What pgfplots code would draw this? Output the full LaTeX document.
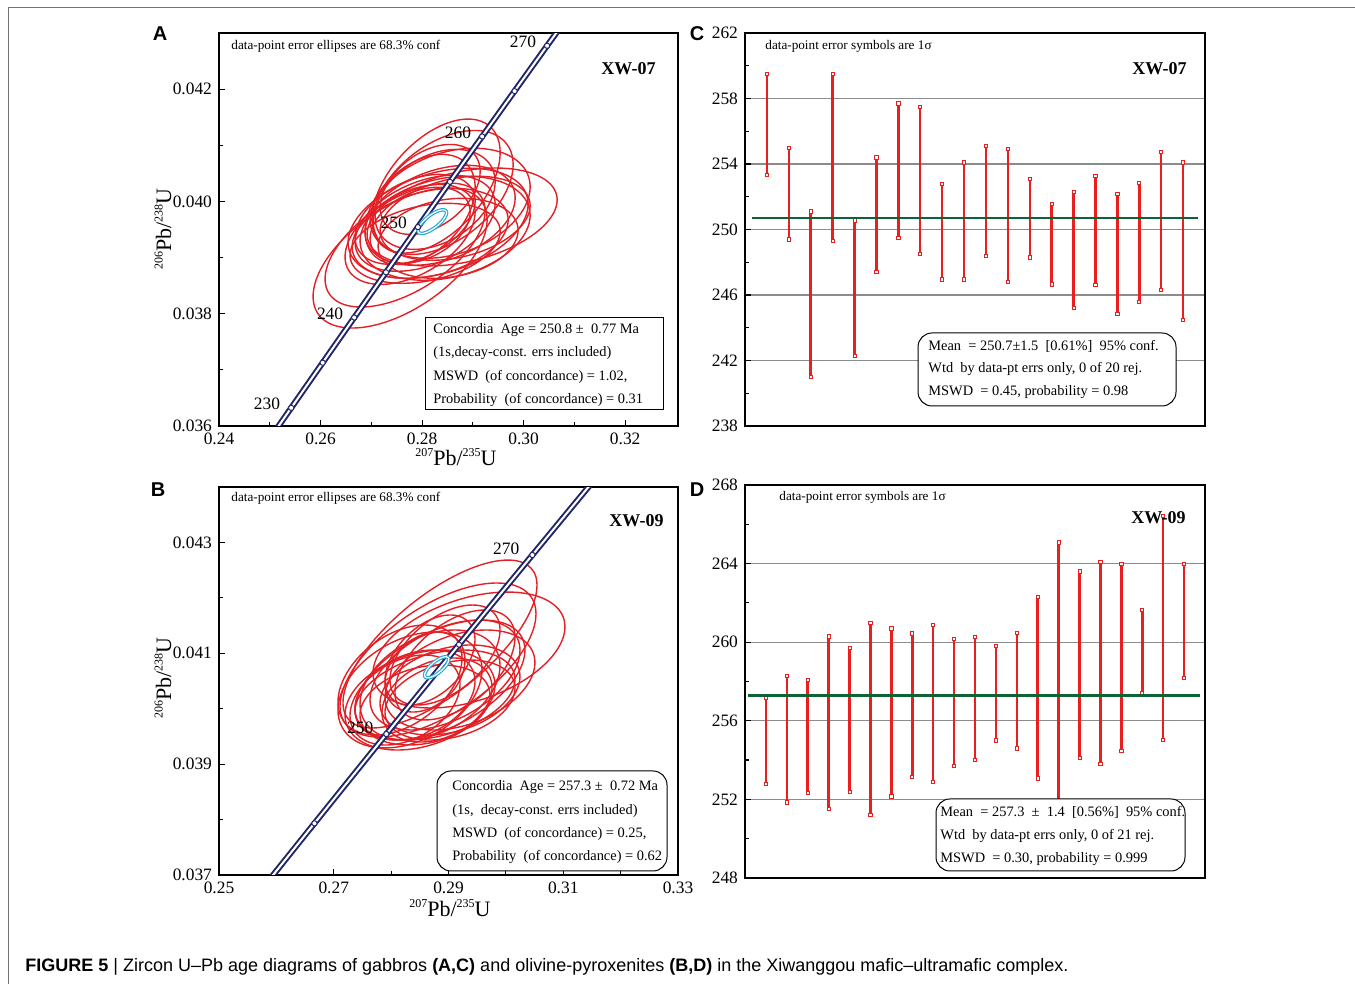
\documentclass[border=0pt]{standalone}
\usepackage{fontspec}
\setmainfont{Liberation Serif}
\newfontfamily\sansf{Liberation Sans}
\usepackage{pgfplots}
\pgfplotsset{compat=1.18}
\usepackage{pgfplotstable}

\definecolor{ellred}{RGB}{226,32,38}
\definecolor{barred}{RGB}{235,30,30}
\definecolor{navy}{RGB}{32,38,104}
\definecolor{cyanell}{RGB}{40,170,215}
\definecolor{greenln}{RGB}{12,100,52}
\definecolor{gridgray}{RGB}{140,140,140}

% concordia curve (age in Ma, 207Pb/235U, 206Pb/238U)
\pgfplotstableread{
t x y
220 0.241929 0.034717
225 0.248062 0.035519
230 0.254222 0.036323
235 0.260414 0.037127
240 0.266636 0.037932
245 0.272889 0.038737
250 0.279171 0.039543
255 0.285485 0.040350
260 0.291832 0.041157
265 0.298209 0.041965
270 0.304618 0.042773
275 0.311058 0.043582
280 0.317530 0.044392
}\conc
\pgfplotstableread{
t x y
230 0.254222 0.036323
240 0.266636 0.037932
250 0.279171 0.039543
260 0.291832 0.041157
270 0.304618 0.042773
}\concten
\pgfplotstableread{
t x y
250 0.279171 0.039543
270 0.304618 0.042773
}\concLabB

% error ellipses XW-07 (centre, 1-sigma half extents, rho)
\pgfplotstableread{
cx cy sx sy r
0.27567 0.038992 0.01714 0.001247 0.55
0.27665 0.039223 0.01576 0.001104 0.55
0.28788 0.039722 0.01872 0.000873 0.35
0.28276 0.040274 0.01261 0.001193 0.50
0.28414 0.040160 0.01379 0.001104 0.45
0.28552 0.039967 0.01576 0.000980 0.30
0.28355 0.039753 0.01478 0.000890 0.35
0.28059 0.039611 0.01379 0.000855 0.40
0.27862 0.039680 0.01182 0.000801 0.40
0.28158 0.039432 0.01537 0.000801 0.30
0.28453 0.039522 0.01675 0.000926 0.25
0.27961 0.039858 0.01084 0.000980 0.40
0.28256 0.040036 0.01182 0.000890 0.35
0.28650 0.039700 0.01478 0.000748 0.30
0.27763 0.039412 0.01281 0.000890 0.45
0.28059 0.039254 0.01478 0.000712 0.30
0.28512 0.039343 0.01379 0.000712 0.20
0.28158 0.040214 0.00985 0.000801 0.40
0.28315 0.039611 0.01773 0.000980 0.35
0.27961 0.039575 0.00985 0.000677 0.35
}\ellA
\pgfplotstableread{
cx cy sx sy r
0.28200 0.039640 0.00280 0.000210 0.75
}\ellAc

% error ellipses XW-09
\pgfplotstableread{
cx cy sx sy r
0.28852 0.041167 0.01691 0.001515 0.70
0.29357 0.041059 0.01673 0.001046 0.40
0.28817 0.040879 0.01708 0.001389 0.60
0.28329 0.040338 0.01255 0.001046 0.35
0.28503 0.040157 0.01307 0.000902 0.30
0.28155 0.040518 0.01081 0.000992 0.40
0.28678 0.040428 0.01220 0.000992 0.35
0.28939 0.040608 0.01307 0.000992 0.45
0.29113 0.040789 0.01046 0.000992 0.50
0.28590 0.040067 0.01133 0.000722 0.25
0.28765 0.040247 0.01394 0.000812 0.35
0.29026 0.040338 0.01220 0.000812 0.30
0.28590 0.040662 0.00697 0.000722 0.30
0.28939 0.040969 0.00959 0.000902 0.50
0.28416 0.040247 0.01046 0.000812 0.30
0.29200 0.040518 0.01307 0.000902 0.35
0.28800 0.040157 0.00959 0.000758 0.30
0.28678 0.040879 0.00784 0.000812 0.45
0.29026 0.040157 0.01133 0.000722 0.30
0.28242 0.040157 0.00959 0.000812 0.35
0.28852 0.040518 0.01481 0.001082 0.50
}\ellB
\pgfplotstableread{
cx cy sx sy r
0.28794 0.040747 0.00210 0.000190 0.75
}\ellBc

% weighted mean plots: analysis, lower, upper age (Ma)
\pgfplotstableread{
x lo hi
1 253.35 259.50
2 249.40 255.00
3 241.00 251.10
4 249.30 259.50
5 242.30 250.55
6 247.40 254.40
7 249.50 257.70
8 248.50 257.50
9 246.95 252.80
10 246.95 254.10
11 248.40 255.10
12 246.80 254.90
13 248.30 253.10
14 246.65 251.55
15 245.20 252.30
16 246.60 253.25
17 244.85 252.15
18 245.60 252.85
19 246.30 254.75
20 244.50 254.10
}\dataC
\pgfplotstableread{
x lo hi
1 252.78 257.15
2 251.85 258.30
3 252.35 258.10
4 251.50 260.30
5 252.40 259.70
6 251.20 260.97
7 252.15 260.70
8 253.15 260.45
9 252.90 260.90
10 253.70 260.17
11 254.00 260.25
12 255.00 259.80
13 254.60 260.46
14 253.07 262.30
15 251.75 265.08
16 254.10 263.60
17 253.80 264.07
18 254.46 263.98
19 257.39 261.64
20 255.03 266.44
21 258.19 263.97
}\dataD

\newcommand{\drawellipses}[3]{%
  \pgfplotsforeachungrouped \ei in {0,...,#2}{%
    \pgfplotstablegetelem{\ei}{cx}\of#1\let\ecx\pgfplotsretval
    \pgfplotstablegetelem{\ei}{cy}\of#1\let\ecy\pgfplotsretval
    \pgfplotstablegetelem{\ei}{sx}\of#1\let\esx\pgfplotsretval
    \pgfplotstablegetelem{\ei}{sy}\of#1\let\esy\pgfplotsretval
    \pgfplotstablegetelem{\ei}{r}\of#1\let\erho\pgfplotsretval
    \edef\doplot{\noexpand\addplot[#3, domain=0:360, samples=73, smooth]
      ({\ecx+\esx*cos(x)},{\ecy+\esy*(\erho*cos(x)+sqrt(1-\erho*\erho)*sin(x))});}%
    \doplot
  }%
}

\newcommand{\sups}[1]{\raisebox{0.85ex}{\fontsize{6}{6}\selectfont #1}}

\pgfplotsset{
  baseax/.style={scale only axis, anchor=south west,
    axis line style={line width=0.9pt},
    tick align=inside, tick pos=left,
    major tick length=3pt, minor tick length=2pt,
    every tick/.append style={black, line width=0.6pt},
    tick label style={font=\fontsize{8.7}{9}\selectfont},
    /pgf/number format/assume math mode=true, scaled ticks=false},
  concax/.style={baseax,
    xticklabel style={/pgf/number format/.cd, fixed, fixed zerofill, precision=2},
    yticklabel style={/pgf/number format/.cd, fixed, fixed zerofill, precision=3}},
  wmax/.style={baseax, xtick=\empty, ymajorgrids,
    grid style={gridgray, line width=0.6pt}, minor y tick num=1, xmin=0},
  ebars/.style={draw=none, mark=none,
    error bars/.cd, y dir=both, y explicit,
    error bar style={draw=barred, line width=1.25pt},
    error mark=square*,
    error mark options={draw=barred, fill=white, mark size=0.8pt, line width=0.4pt}},
  concline/.style={navy, line width=1pt, double=white, double distance=1pt, smooth},
  concmark/.style={only marks, mark=*, mark size=1.3pt,
    mark options={draw=navy, fill=white, line width=0.45pt}},
}

\begin{document}
\begin{tikzpicture}
\path[use as bounding box] (0,0) rectangle (677.5pt,492pt);

% ---------------- A ----------------
\begin{axis}[concax, at={(109.5pt,279pt)}, width=229.5pt, height=196.5pt,
  xmin=0.24, xmax=0.3304, ymin=0.036, ymax=0.043,
  xtick={0.24,0.26,0.28,0.30,0.32}, minor xtick={0.25,0.27,0.29,0.31},
  ytick={0.036,0.038,0.040,0.042}, minor ytick={0.037,0.039,0.041}]
\drawellipses{\ellA}{19}{ellred, line width=0.7pt}
\addplot[concline] table[x=x,y=y]{\conc};
\addplot[concmark] table[x=x,y=y]{\conc};
\addplot[concmark, nodes near coords, point meta=explicit symbolic,
  every node near coord/.append style={anchor=east, text=black,
    font=\fontsize{8.7}{9}\selectfont, xshift=-2pt, yshift=2pt}]
  table[x=x,y=y,meta=t]{\concten};
\drawellipses{\ellAc}{0}{cyanell, line width=0.6pt, double=white, double distance=0.6pt}
\end{axis}

% ---------------- B ----------------
\begin{axis}[concax, at={(109.5pt,54.5pt)}, width=229.5pt, height=194pt,
  xmin=0.25, xmax=0.33, ymin=0.037, ymax=0.044,
  xtick={0.25,0.27,0.29,0.31,0.33}, minor xtick={0.26,0.28,0.30,0.32},
  ytick={0.037,0.039,0.041,0.043}, minor ytick={0.038,0.040,0.042}]
\drawellipses{\ellB}{20}{ellred, line width=0.7pt}
\addplot[concline] table[x=x,y=y]{\conc};
\addplot[concmark] table[x=x,y=y]{\concten};
\addplot[concmark, nodes near coords, point meta=explicit symbolic,
  every node near coord/.append style={anchor=east, text=black,
    font=\fontsize{8.7}{9}\selectfont, xshift=-3pt, yshift=3pt}]
  table[x=x,y=y,meta=t]{\concLabB};
\drawellipses{\ellBc}{0}{cyanell, line width=0.6pt, double=white, double distance=0.6pt}
\end{axis}

% ---------------- C ----------------
\begin{axis}[wmax, at={(372.5pt,279pt)}, width=230pt, height=196.5pt,
  xmax=21, ymin=238, ymax=262, ytick={238,242,246,250,254,258,262}]
\addplot[ebars] table[x=x, y expr={(\thisrow{lo}+\thisrow{hi})/2},
  y error expr={(\thisrow{hi}-\thisrow{lo})/2}]{\dataC};
\addplot[draw=greenln, line width=1.4pt] coordinates {(0.3,250.7) (20.7,250.7)};
\end{axis}

% ---------------- D ----------------
\begin{axis}[wmax, at={(372.5pt,53pt)}, width=230pt, height=196.5pt,
  xmax=22, ymin=248, ymax=268, ytick={248,252,256,260,264,268}]
\addplot[ebars] table[x=x, y expr={(\thisrow{lo}+\thisrow{hi})/2},
  y error expr={(\thisrow{hi}-\thisrow{lo})/2}]{\dataD};
\addplot[draw=greenln, line width=1.4pt] coordinates {(0.16,257.3) (21.77,257.3)};
\end{axis}

% ---------------- annotations (pixel coordinates) ----------------
\begin{scope}[x=0.5pt, y=-0.5pt, shift={(0pt,492pt)}, every node/.style={inner sep=0pt}]
\draw[line width=0.5pt, black!55] (8,8) -- (1355,8);
\draw[line width=0.5pt, black!55] (8,8) -- (8,984);

\begin{scope}[font=\sansf\bfseries\fontsize{10}{10}\selectfont]
\node at (160,34) {A};
\node at (158,490) {B};
\node at (697,34) {C};
\node at (697,490) {D};
\end{scope}

% axis titles
\node[font=\fontsize{11}{11}\selectfont] at (456,457) {\sups{207}Pb/\sups{235}U};
\node[font=\fontsize{11}{11}\selectfont, rotate=90] at (163,229) {\sups{206}Pb/\sups{238}U};
\node[font=\fontsize{11}{11}\selectfont] at (450,908) {\sups{207}Pb/\sups{235}U};
\node[font=\fontsize{11}{11}\selectfont, rotate=90] at (163,678) {\sups{206}Pb/\sups{238}U};

% panel A texts
\node[anchor=west, font=\fontsize{6.6}{7}\selectfont] at (231,46) {data-point error ellipses are 68.3\% conf};
\node[anchor=east, font=\bfseries\fontsize{9}{9}\selectfont] at (656,69) {XW-07};
\draw[line width=0.5pt, fill=white] (425,318) rectangle (663,410);
\begin{scope}[every node/.style={anchor=west, inner sep=0pt, font=\fontsize{7.2}{8}\selectfont}]
\node at (433,330) {Concordia\hspace{0.5em}Age = 250.8 ±\hspace{0.5em}0.77 Ma};
\node at (433,353) {(1s,decay-const. errs included)};
\node at (433,377) {MSWD\hspace{0.5em}(of concordance) = 1.02,};
\node at (433,400) {Probability\hspace{0.5em}(of concordance) = 0.31};
\end{scope}

% panel B texts
\node[anchor=west, font=\fontsize{6.6}{7}\selectfont] at (231,498) {data-point error ellipses are 68.3\% conf};
\node[anchor=east, font=\bfseries\fontsize{9}{9}\selectfont] at (664,521) {XW-09};
\draw[line width=0.5pt, fill=white, rounded corners=7pt] (437,771) rectangle (667,871);
\begin{scope}[every node/.style={anchor=west, inner sep=0pt, font=\fontsize{7.2}{8}\selectfont}]
\node at (452,787) {Concordia\hspace{0.5em}Age = 257.3 ±\hspace{0.5em}0.72 Ma};
\node at (452,811) {(1s,\hspace{0.5em}decay-const. errs included)};
\node at (452,834) {MSWD\hspace{0.5em}(of concordance) = 0.25,};
\node at (452,857) {Probability\hspace{0.5em}(of concordance) = 0.62};
\end{scope}

% panel C texts
\node[anchor=west, font=\fontsize{6.6}{7}\selectfont] at (765,46) {data-point error symbols are 1σ};
\node[anchor=east, font=\bfseries\fontsize{9}{9}\selectfont] at (1187,69) {XW-07};
\draw[line width=0.5pt, fill=white, rounded corners=7pt] (918,333) rectangle (1176,406);
\begin{scope}[every node/.style={anchor=west, inner sep=0pt, font=\fontsize{7.2}{8}\selectfont}]
\node at (928,346) {Mean\hspace{0.5em}= 250.7±1.5\hspace{0.5em}[0.61\%]\hspace{0.5em}95\% conf.};
\node at (928,369) {Wtd\hspace{0.5em}by data-pt errs only, 0 of 20 rej.};
\node at (928,392) {MSWD\hspace{0.5em}= 0.45, probability = 0.98};
\end{scope}

% panel D texts
\node[anchor=west, font=\fontsize{6.6}{7}\selectfont] at (779,497) {data-point error symbols are 1σ};
\node[anchor=east, font=\bfseries\fontsize{9}{9}\selectfont] at (1186,518) {XW-09};
\draw[line width=0.5pt, fill=white, rounded corners=7pt] (936,799) rectangle (1185,871);
\begin{scope}[every node/.style={anchor=west, inner sep=0pt, font=\fontsize{7.2}{8}\selectfont}]
\node at (940,812) {Mean\hspace{0.5em}= 257.3\hspace{0.5em}±\hspace{0.5em}1.4\hspace{0.5em}[0.56\%]\hspace{0.5em}95\% conf.};
\node at (940,836) {Wtd\hspace{0.5em}by data-pt errs only, 0 of 21 rej.};
\node at (940,859) {MSWD\hspace{0.5em}= 0.30, probability = 0.999};
\end{scope}

% caption
\node[anchor=west, font=\sansf\fontsize{9}{10}\selectfont] at (25,967)
  {\textbf{FIGURE 5} | Zircon U–Pb age diagrams of gabbros \textbf{(A,C)} and olivine-pyroxenites \textbf{(B,D)} in the Xiwanggou mafic–ultramafic complex.};
\end{scope}
\end{tikzpicture}
\end{document}
